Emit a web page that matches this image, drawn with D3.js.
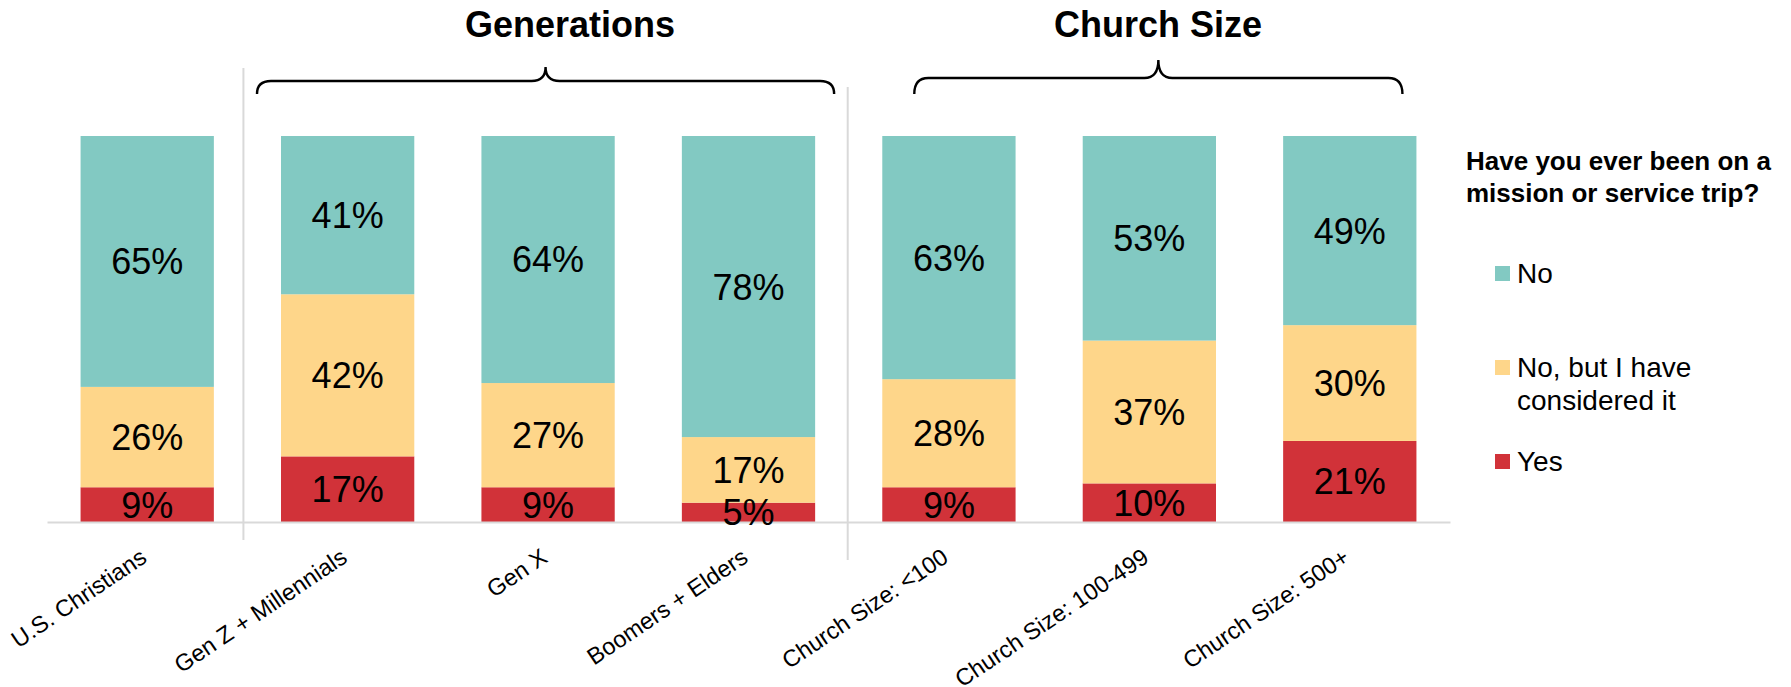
<!DOCTYPE html>
<html>
<head>
<meta charset="utf-8">
<script src="https://cdn.jsdelivr.net/npm/d3@7"></script>
<style>
  html, body { margin: 0; padding: 0; background: #fff; }
  svg { display: block; font-family: "Liberation Sans", Arial, sans-serif; }
</style>
</head>
<body>
<svg id="chart" width="1791" height="687"></svg>
<script>
// ---- data ----
const categories = ["U.S. Christians", "Gen Z + Millennials", "Gen X", "Boomers + Elders",
                    "Church Size: <100", "Church Size: 100-499", "Church Size: 500+"];
const seriesKeys = ["yes", "considered", "no"];
const seriesNames = ["Yes", "No, but I have considered it", "No"];
const yesValues = [9, 17, 9, 5, 9, 10, 21];
const consideredValues = [26, 42, 27, 17, 28, 37, 30];
const noValues = [65, 41, 64, 78, 63, 53, 49];
const groupTitles = ["Generations", "Church Size"];
const legendTitle = ["Have you ever been on a", "mission or service trip?"];
const legendOrder = ["No", "No, but I have considered it", "Yes"];
const legendLines = [["No"], ["No, but I have", "considered it"], ["Yes"]];

// ---- layout / style ----
const colors = { "Yes": "#D13239", "No, but I have considered it": "#FED68A", "No": "#82C9C2" };
const gridColor = "#D9D9D9";
const svg = d3.select("#chart");

const table = categories.map((c, i) => ({
  category: c, yes: yesValues[i], considered: consideredValues[i], no: noValues[i]
}));

const x = d3.scaleBand().domain(categories).range([47, 1450]).paddingInner(0.335).paddingOuter(0.1675);
const y = d3.scaleLinear().domain([0, 100]).range([522, 136]);

const stack = d3.stack().keys(seriesKeys);
const layers = stack(table);

// separators (behind bars)
const sepDefs = [
  { after: 0, y1: 68, y2: 540, dx: -4 },
  { after: 3, y1: 87, y2: 560, dx: -1 }
];
sepDefs.forEach(s => {
  const xb = x(categories[s.after]) + x.bandwidth() + (x.step() - x.bandwidth()) / 2 + s.dx;
  svg.append("line").attr("x1", xb).attr("x2", xb).attr("y1", s.y1).attr("y2", s.y2)
    .attr("stroke", gridColor).attr("stroke-width", 2);
});

// bars
const layerG = svg.selectAll("g.layer").data(layers).join("g")
  .attr("class", "layer")
  .attr("fill", (d, i) => colors[seriesNames[i]]);

layerG.selectAll("rect").data(d => d).join("rect")
  .attr("x", d => x(d.data.category))
  .attr("width", x.bandwidth())
  .attr("y", d => y(d[1]))
  .attr("height", d => y(d[0]) - y(d[1]));

// axis baseline
const xAxis = d3.axisBottom(x).tickSize(0).tickFormat("");
const axisG = svg.append("g").attr("transform", `translate(0,${y(0)})`).call(xAxis);
axisG.select(".domain").attr("stroke", gridColor).attr("stroke-width", 2);

// data labels (on top of everything)
const labelG = svg.append("g");
layers.forEach(layer => {
  labelG.selectAll(null).data(layer).join("text")
    .attr("x", d => x(d.data.category) + x.bandwidth() / 2)
    .attr("y", d => (y(d[0]) + y(d[1])) / 2)
    .attr("dy", "0.36em")
    .attr("text-anchor", "middle")
    .attr("fill", "#000")
    .style("font-size", "36px")
    .text(d => (d[1] - d[0]) + "%");
});

// category labels
svg.append("g").selectAll("text").data(categories).join("text")
  .attr("transform", d => `translate(${x(d) + x.bandwidth() / 2 + 1},${y(0) + 39}) rotate(-34)`)
  .attr("text-anchor", "end")
  .attr("fill", "#000")
  .style("font-size", "23.5px")
  .text(d => d);

// group braces + titles
const groups = [
  { title: groupTitles[0], first: 1, last: 3, padL: -24, padR: 19, peakY: 67, lineY: 81, titleX: 570 },
  { title: groupTitles[1], first: 4, last: 6, padL: 32, padR: -14, peakY: 60, lineY: 78, titleX: 1158 }
];
groups.forEach(g => {
  const L = x(categories[g.first]) + g.padL;
  const R = x(categories[g.last]) + x.bandwidth() + g.padR;
  const M = (L + R) / 2;
  const endY = 94, r = 14;
  const p = d3.path();
  p.moveTo(L, endY);
  p.quadraticCurveTo(L, g.lineY, L + r, g.lineY);
  p.lineTo(M - r, g.lineY);
  p.quadraticCurveTo(M, g.lineY, M, g.peakY);
  p.quadraticCurveTo(M, g.lineY, M + r, g.lineY);
  p.lineTo(R - r, g.lineY);
  p.quadraticCurveTo(R, g.lineY, R, endY);
  svg.append("path").attr("d", p.toString()).attr("fill", "none")
    .attr("stroke", "#000").attr("stroke-width", 2.4);
  svg.append("text").attr("x", g.titleX).attr("y", 37).attr("text-anchor", "middle")
    .style("font-size", "36px").style("font-weight", "bold").attr("fill", "#000")
    .text(g.title);
});

// legend
const lg = svg.append("g");
lg.selectAll("text.lt").data(legendTitle).join("text")
  .attr("class", "lt")
  .attr("x", 1466).attr("y", (d, i) => 170 + i * 32)
  .style("font-size", "26px").style("font-weight", "bold").attr("fill", "#000")
  .text(d => d);

const itemY = [266, 360, 454];
legendOrder.forEach((name, i) => {
  lg.append("rect").attr("x", 1495).attr("y", itemY[i]).attr("width", 15).attr("height", 15)
    .attr("fill", colors[name]);
  const t = lg.append("text").attr("x", 1517).attr("y", itemY[i] + 16.5)
    .style("font-size", "28px").attr("fill", "#000");
  legendLines[i].forEach((line, j) => {
    t.append("tspan").attr("x", 1517).attr("dy", j === 0 ? 0 : 33.5).text(line);
  });
});
</script>
</body>
</html>
